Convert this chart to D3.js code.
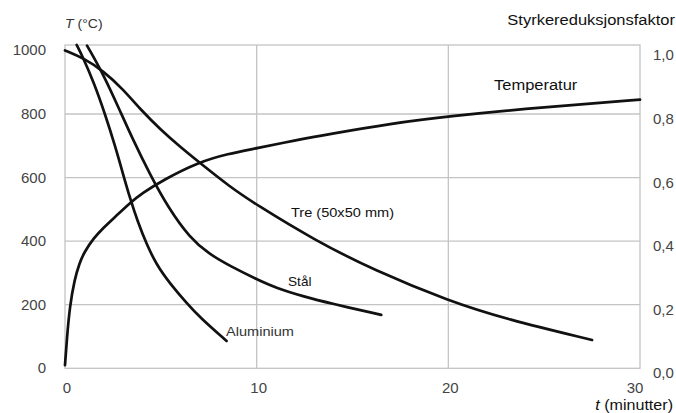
<!DOCTYPE html>
<html>
<head>
<meta charset="utf-8">
<script src="https://cdn.jsdelivr.net/npm/d3@7"></script>
<style>
body { margin: 0; background: #fff; }
text { font-family: "Liberation Sans", Arial, sans-serif; }
</style>
</head>
<body>
<svg id="chart" width="676" height="413"></svg>
<script>
// --- data ---
// temperature curve (left axis, °C)
var tempTime  = [0, 0.1, 0.25, 0.5, 0.75, 1, 1.5, 2, 2.61, 3.39, 4, 5.2, 6.95, 8.5, 10, 12, 13.8, 17, 20, 25, 30];
var tempValue = [10, 95, 195, 280, 330, 365, 410, 442, 476, 520, 550, 595, 648, 675, 692, 717, 737, 770, 793, 822, 845];

// strength reduction factors (right axis)
var treTime  = [0, 1, 2, 3, 4, 5, 6, 7, 8.6, 10, 13, 16.1, 20.1, 23, 27.5];
var treValue = [1.0, 0.975, 0.935, 0.88, 0.81, 0.75, 0.697, 0.648, 0.571, 0.514, 0.404, 0.309, 0.21, 0.155, 0.089];

var stalTime  = [1.15, 2, 2.87, 3.5, 4.43, 5.39, 6.52, 7.5, 8.6, 10, 11, 12.5, 13.8, 16.5];
var stalValue = [1.015, 0.925, 0.81, 0.725, 0.61, 0.505, 0.41, 0.36, 0.322, 0.28, 0.253, 0.225, 0.205, 0.168];

var aluTime  = [0.61, 0.92, 1.5, 2.09, 2.61, 3.01, 3.39, 3.8, 4.26, 4.78, 5.5, 6.35, 7.04, 8.43];
var aluValue = [1.017, 0.98, 0.9, 0.80, 0.70, 0.615, 0.535, 0.46, 0.39, 0.325, 0.265, 0.205, 0.16, 0.086];

var xTicks = [0, 10, 20, 30];
var leftTicks = [0, 200, 400, 600, 800, 1000];
var rightTicks = [0, 0.2, 0.4, 0.6, 0.8, 1.0];

var svg = d3.select("#chart"),
    width = +svg.attr("width"),
    height = +svg.attr("height"),
    margin = {top: 45, right: 36, bottom: 44.7, left: 65};

var x = d3.scaleLinear().domain([0, 30]).range([margin.left, width - margin.right]);
var yT = d3.scaleLinear().domain([0, 1000]).range([height - margin.bottom, margin.top + 5.4]);
var yF = d3.scaleLinear().domain([0, 1]).range([height - margin.bottom, margin.top + 5.4]);

var grid = "#c4c4c4";

// horizontal gridlines
svg.append("g").selectAll("line")
    .data(leftTicks.filter(function (d) { return d > 0 && d < 1000; }))
    .enter().append("line")
    .attr("x1", x(0)).attr("x2", x(30))
    .attr("y1", function (d) { return yT(d); })
    .attr("y2", function (d) { return yT(d); })
    .attr("stroke", grid).attr("stroke-width", 1.3);

// vertical gridlines
svg.append("g").selectAll("line")
    .data(xTicks.filter(function (d) { return d > 0 && d < 30; }))
    .enter().append("line")
    .attr("x1", function (d) { return x(d); })
    .attr("x2", function (d) { return x(d); })
    .attr("y1", margin.top).attr("y2", yT(0))
    .attr("stroke", grid).attr("stroke-width", 1.3);

// frame
svg.append("rect")
    .attr("x", x(0)).attr("y", margin.top)
    .attr("width", x(30) - x(0)).attr("height", yT(0) - margin.top)
    .attr("fill", "none").attr("stroke", grid).attr("stroke-width", 1.3);

// tick labels
svg.append("g").selectAll("text")
    .data(leftTicks).enter().append("text")
    .attr("x", 46)
    .attr("y", function (d) { return yT(d) + 5; })
    .attr("text-anchor", "end")
    .attr("font-size", 15).attr("fill", "#444")
    .text(function (d) { return d; });

svg.append("g").selectAll("text")
    .data(rightTicks).enter().append("text")
    .attr("x", 653)
    .attr("y", function (d) { return yF(d) + 10; })
    .attr("font-size", 15).attr("fill", "#444")
    .text(function (d) { return d3.format(".1f")(d).replace(".", ","); });

svg.append("g").selectAll("text")
    .data(xTicks).enter().append("text")
    .attr("x", function (d, i) { return i == xTicks.length - 1 ? x(d) - 5 : x(d) + 2; })
    .attr("y", 393)
    .attr("text-anchor", "middle")
    .attr("font-size", 15).attr("fill", "#444")
    .text(function (d) { return d; });

// curves
function drawCurve(ts, vs, scale) {
    var pts = ts.map(function (t, i) { return [t, vs[i]]; });
    var line = d3.line()
        .x(function (d) { return x(d[0]); })
        .y(function (d) { return scale(d[1]); })
        .curve(d3.curveBasis);
    svg.append("path")
        .datum(pts)
        .attr("d", line)
        .attr("fill", "none")
        .attr("stroke", "#111")
        .attr("stroke-width", 2.7)
        .attr("stroke-linecap", "round");
}
drawCurve(tempTime, tempValue, yT);
drawCurve(treTime, treValue, yF);
drawCurve(stalTime, stalValue, yF);
drawCurve(aluTime, aluValue, yF);

// labels (picture is stretched a bit horizontally)
function label(txt, px, py, size, sx, anchor, color) {
    return svg.append("text")
        .attr("transform", "translate(" + px + "," + py + ") scale(" + sx + ",1)")
        .attr("font-size", size)
        .attr("fill", color || "#111")
        .attr("text-anchor", anchor || "start")
        .text(txt);
}
label("Temperatur", 494, 90, 15, 1.1);
label("Tre (50x50 mm)", 291, 216.5, 13, 1.12);
label("Stål", 288, 286, 13, 1.05);
label("Aluminium", 226, 336, 13, 1.12, "start", "#333");
label("Styrkereduksjonsfaktor", 675, 25, 15, 1.1, "end");

var tl = svg.append("text")
    .attr("transform", "translate(65,28) scale(1.08,1)")
    .attr("font-size", 13).attr("fill", "#333");
tl.append("tspan").attr("font-style", "italic").text("T");
tl.append("tspan").text(" (°C)");

var tm = svg.append("text")
    .attr("font-size", 14).attr("fill", "#111")
    .attr("text-anchor", "end")
    .attr("transform", "translate(673,410) scale(1.15,1)");
tm.append("tspan").attr("font-style", "italic").text("t");
tm.append("tspan").text(" (minutter)");
</script>
</body>
</html>
